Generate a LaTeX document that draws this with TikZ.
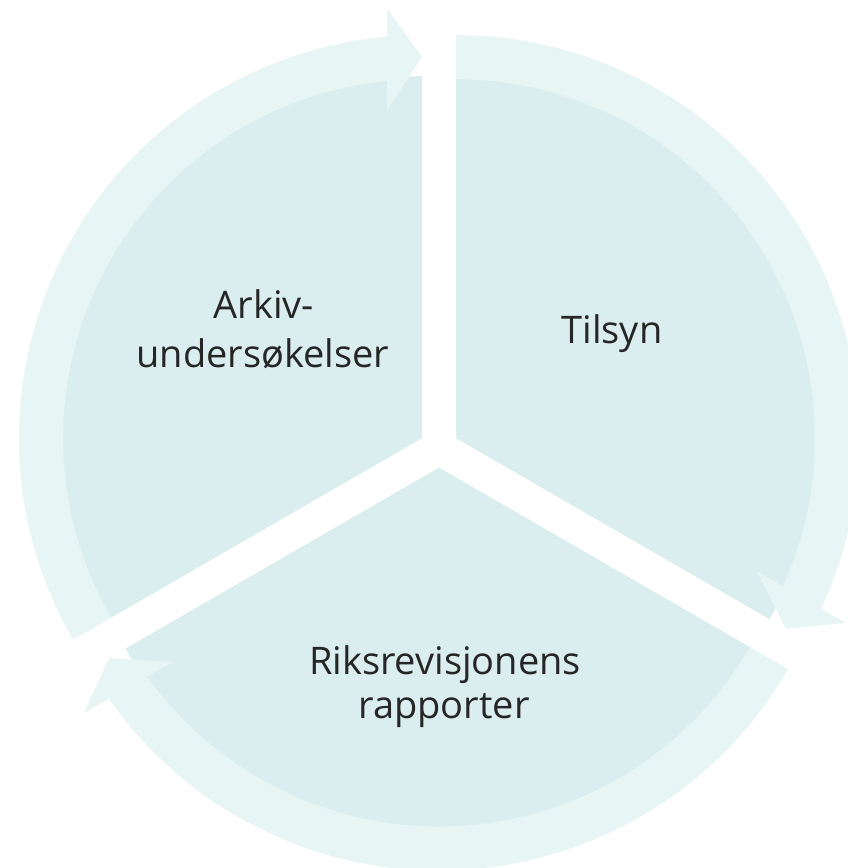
\documentclass[tikz,border=0pt]{standalone}
\usepackage{fontspec}
\setmainfont{Open Sans}
\definecolor{piecol}{RGB}{218,238,240}
\definecolor{ringcol}{RGB}{232,245,245}
\definecolor{txtcol}{RGB}{38,38,38}
\newcommand\drawsector[3]{%
  \fill[sector] (#1) -- ([shift={(#1)}]#2:362) arc[start angle=#2, end angle=#3, radius=362] -- cycle;}
\newcommand\drawcyclearrow[2]{%
  \fill[ringarrow] ([shift={(#1)}]{#2+120}:403) arc[start angle={#2+120}, end angle={#2+4.98}, radius=403]
   -- ([shift={(#1)}]{#2+4.65}:431.4) -- ([shift={(#1)}]#2:381) -- ([shift={(#1)}]{#2+6.09}:329.9)
   -- ([shift={(#1)}]{#2+5.6}:359) arc[start angle={#2+5.6}, end angle={#2+120}, radius=359] -- cycle;}
\begin{document}
\begin{tikzpicture}[x=1pt,y=1pt,
  sector/.style={fill=piecol},
  ringarrow/.style={fill=ringcol},
  lbl/.style={font=\fontsize{38}{46}\selectfont, text=txtcol, inner sep=0pt, anchor=base}]
\useasboundingbox (0,0) rectangle (848,868);
\coordinate (S1) at (422.03,429.8);
\coordinate (S2) at (455.97,429.8);
\coordinate (S3) at (439,400.4);
\drawsector{S1}{90}{210}
\drawsector{S2}{-30}{90}
\drawsector{S3}{210}{330}
\drawcyclearrow{S1}{90}
\drawcyclearrow{S2}{-30}
\drawcyclearrow{S3}{210}
\node[lbl] (arkiv1) at (264,549) {Arkiv-};
\node[lbl] (arkiv2) at (263,500) {undersøkelser};
\node[lbl] (tilsyn) at (612,524) {Tilsyn};
\node[lbl] (riks1) at (445,193) {Riksrevisjonens};
\node[lbl] (riks2) at (444,149) {rapporter};
\end{tikzpicture}
\end{document}
